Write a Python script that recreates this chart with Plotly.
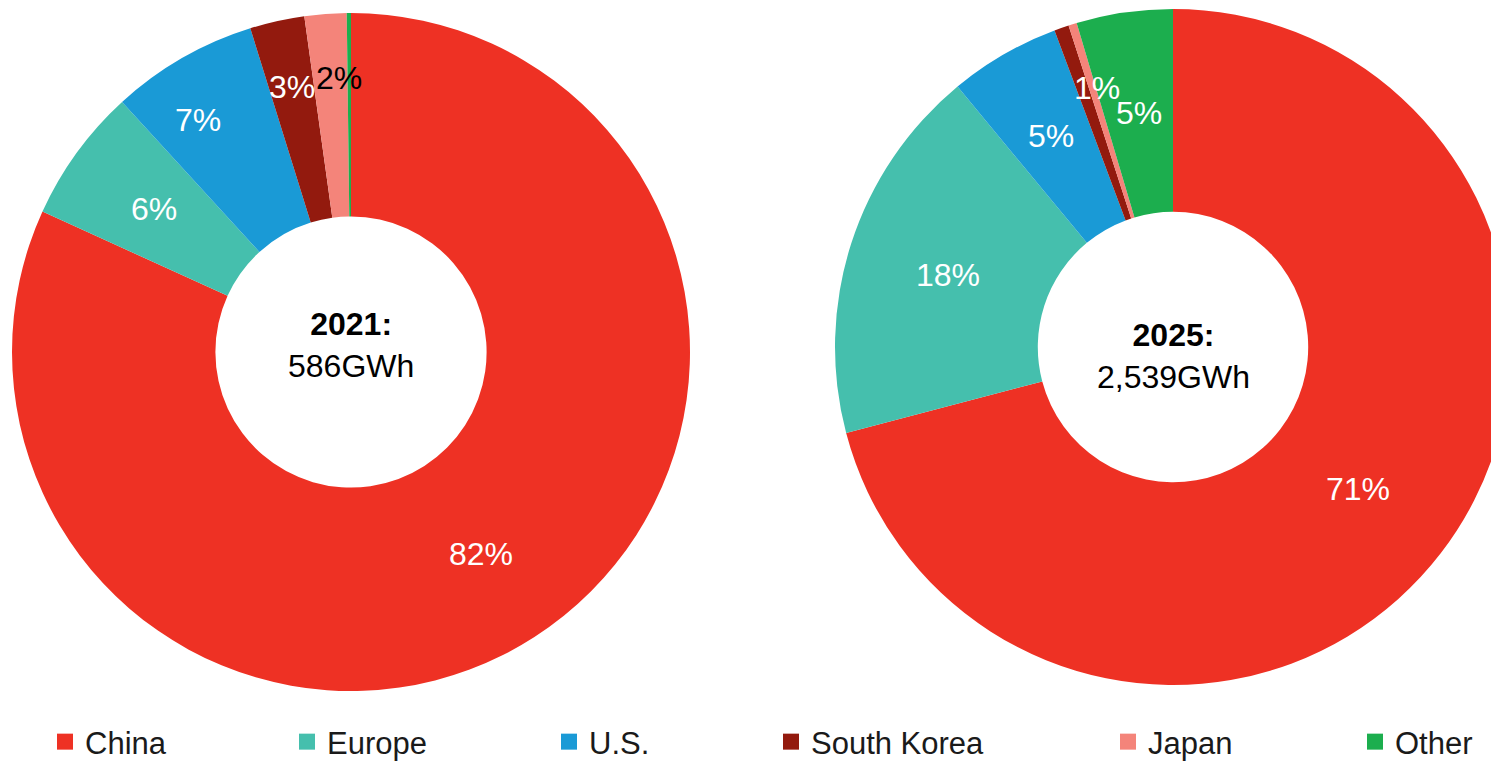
import math
import plotly.graph_objects as go

# ---- data -------------------------------------------------------------
REGIONS = ["China", "Europe", "U.S.", "South Korea", "Japan", "Other"]
SHARE_2021 = [81.8, 6.4, 7.0, 2.6, 2.0, 0.2]   # % of 2021 capacity
SHARE_2025 = [70.9, 18.1, 5.3, 0.7, 0.4, 4.6]  # % of 2025 capacity
YEARS = ["2021", "2025"]
TOTALS = ["586GWh", "2,539GWh"]

# ---- style ------------------------------------------------------------
COLORS = ["#EE3124", "#45BFAD", "#1A9AD6", "#931A0E", "#F4847A", "#1CAE4E"]
LABEL_COLORS = ["white", "white", "white", "white", "black", "white"]
FONT = "Arial, Liberation Sans, sans-serif"

W, H = 1511, 769
HOLE = 0.40
# pixel geometry of each donut: centre, outer radius, label radius (fraction of
# outer radius), small angular nudges for crowded labels (fraction of a turn)
# and a vertical shift of the centre caption
LAYOUT_2021 = dict(cx=351, cy=352, r=339,
                   label_r=[0.71, 0.72, 0.82, 0.80, 0.81, 0.80],
                   label_turn=[0, 0, -0.010, 0, 0.005, 0],
                   caption_shift=7)
LAYOUT_2025 = dict(cx=1173, cy=347, r=338,
                   label_r=[0.69, 0.70, 0.72, 0.80, 0.80, 0.70],
                   label_turn=[0, 0, 0, 0.008, 0, 0],
                   caption_shift=-9)

# legend: left edge (px) of each entry
LEGEND_X = [45, 287, 549, 771, 1108, 1355]


def px_to_paper(x, y):
    return x / W, 1 - y / H


fig = go.Figure()
annotations = []

for year, total, shares, geo in zip(YEARS, TOTALS, [SHARE_2021, SHARE_2025],
                                    [LAYOUT_2021, LAYOUT_2025]):
    cx, cy, r = geo["cx"], geo["cy"], geo["r"]
    x0, y1 = px_to_paper(cx - r, cy - r)
    x1, y0 = px_to_paper(cx + r, cy + r)
    fig.add_trace(go.Pie(
        labels=REGIONS, values=shares, hole=HOLE, sort=False,
        direction="clockwise", rotation=0,
        marker=dict(colors=COLORS, line=dict(width=0)),
        textinfo="none", showlegend=False,
        domain=dict(x=[max(0, x0), min(1, x1)], y=[max(0, y0), min(1, y1)]),
        name=year,
    ))

    # percentage labels placed at the middle angle of each slice
    total_share = sum(shares)
    cum = 0.0
    for i, v in enumerate(shares):
        frac = v / total_share
        mid = (cum + frac / 2 + geo["label_turn"][i]) * 2 * math.pi
        cum += frac
        pct = round(100 * frac)
        if pct < 1:
            continue
        rl = geo["label_r"][i] * r
        lx, ly = px_to_paper(cx + rl * math.sin(mid), cy - rl * math.cos(mid))
        annotations.append(dict(
            x=lx, y=ly, xref="paper", yref="paper", showarrow=False,
            text=f"{pct}%", xanchor="center", yanchor="middle",
            font=dict(family=FONT, size=32, color=LABEL_COLORS[i]),
        ))

    # centre caption
    tx, ty = px_to_paper(cx, cy)
    annotations.append(dict(
        x=tx, y=ty, xref="paper", yref="paper", showarrow=False,
        text=f"<b>{year}:</b><br>{total}", align="center",
        xanchor="center", yanchor="middle", yshift=geo["caption_shift"],
        font=dict(family=FONT, size=32, color="black"),
    ))

# legend entries: one legend box per region so each sits at its own spot
legend_layouts = {}
for i, (name, color) in enumerate(zip(REGIONS, COLORS)):
    key = "legend" if i == 0 else f"legend{i + 1}"
    fig.add_trace(go.Scatter(
        x=[None], y=[None], mode="markers", name=name,
        marker=dict(symbol="square", size=16, color=color),
        showlegend=True, legend=key, hoverinfo="skip",
    ))
    legend_layouts[key] = dict(
        x=LEGEND_X[i] / W, y=0, xanchor="left", yanchor="bottom",
        orientation="h", bgcolor="rgba(0,0,0,0)", borderwidth=0,
        font=dict(family=FONT, size=31, color="#1a1a1a"),
    )

fig.update_layout(
    width=W, height=H, autosize=False,
    margin=dict(l=0, r=0, t=0, b=0, autoexpand=False),
    paper_bgcolor="white", plot_bgcolor="white",
    xaxis=dict(visible=False), yaxis=dict(visible=False),
    showlegend=True,
    annotations=annotations,
    **legend_layouts,
)

fig.write_html(
    "out.html",
    post_script="document.documentElement.style.overflow='hidden';"
                "document.body.style.overflow='hidden';",
)
